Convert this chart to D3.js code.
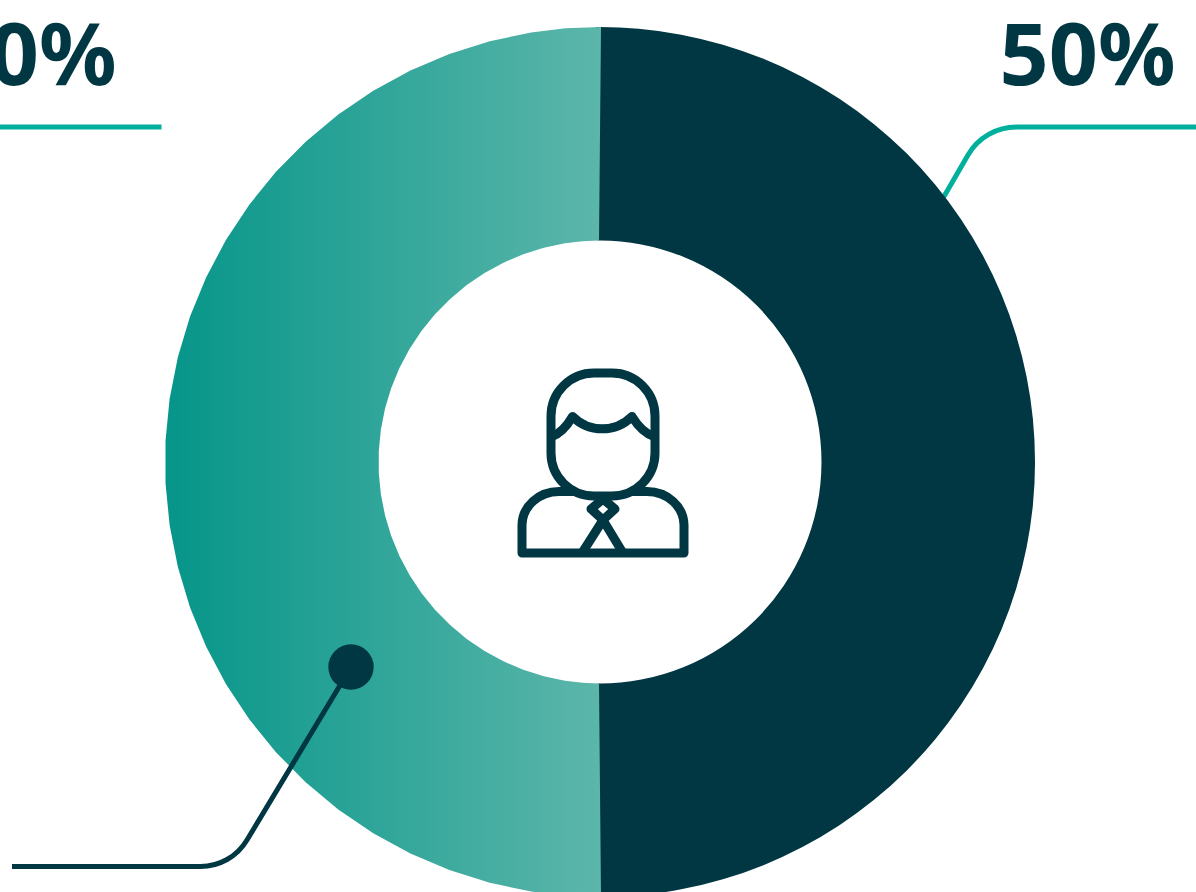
<!DOCTYPE html>
<html><head><meta charset="utf-8">
<script src="https://cdn.jsdelivr.net/npm/d3@7"></script>
<style>html,body{margin:0;padding:0;background:#fff;overflow:hidden}svg{display:block}</style>
</head><body><svg id="c" width="1196" height="892"></svg>
<script>
const shares = [50, 50];
const shareLabels = ["50%", "50%"];
const dark = "#013743", teal = "#00b09d";

const svg = d3.select("#c");
const cx = 600, cy = 462, R = 435, r = 221.5;
const defs = svg.append("defs");
const grad = defs.append("linearGradient").attr("id","g").attr("gradientUnits","userSpaceOnUse")
  .attr("x1",-R).attr("x2",0).attr("y1",0).attr("y2",0);
grad.append("stop").attr("offset",0).attr("stop-color","#069589");
grad.append("stop").attr("offset",1).attr("stop-color","#5cb6aa");

// right leader sits behind the donut
svg.append("path").attr("d","M935,212 L968,155 A56,56 0 0 1 1017,127 L1196,127")
  .attr("fill","none").attr("stroke",teal).attr("stroke-width",5);
svg.append("path").attr("d","M0,127 L161.5,127")
  .attr("fill","none").attr("stroke",teal).attr("stroke-width",5);

const pie = d3.pie().sort(null)(shares);
const g = svg.append("g").attr("transform",`translate(${cx},${cy})`);
const arc = d3.arc().innerRadius(r).outerRadius(R);

// dark half: slightly oversized, the faceted half is laid on top of its edges
g.append("path").attr("d",arc({startAngle:pie[0].startAngle-0.01,endAngle:pie[0].endAngle+0.01})).attr("fill",dark);

// gradient half: polygonal arc, straight segments as in the source artwork
const s = pie[1], nSeg = 29, firstStep = 9.1*Math.PI/180;
const step = (s.endAngle - s.startAngle - 2*firstStep)/nSeg;
const corners = d3.range(nSeg+1).map(i => s.startAngle + firstStep + i*step);
const ends = [firstStep/2, firstStep/2];
const outerA = [s.startAngle - 1/R, s.startAngle + ends[0], ...corners, s.endAngle - ends[1], s.endAngle + 1/R];
const innerA = [s.endAngle - 1/r, s.endAngle - ends[1], ...corners.slice().reverse(), s.startAngle + ends[0], s.startAngle + 1/r];
const radial = d3.lineRadial().angle(d=>d[0]).radius(d=>d[1]);
g.append("path").attr("d", radial(outerA.map(a=>[a,R]).concat(innerA.map(a=>[a,r]))) + "Z").attr("fill","url(#g)");

// left leader & dot in front
svg.append("path").attr("d","M12,866.5 L200,866.5 A54,54 0 0 0 247,840 L345,677")
  .attr("fill","none").attr("stroke",dark).attr("stroke-width",5);
svg.append("circle").attr("cx",351).attr("cy",667).attr("r",22.7).attr("fill",dark);

// labels
svg.selectAll("text.v").data(shareLabels).join("text").attr("class","v")
  .attr("x",(d,i)=> i===0 ? 1175.5 : 116.5).attr("y",85)
  .attr("text-anchor","end")
  .attr("font-family","'Noto Sans'").attr("font-weight",700).attr("font-size",86)
  .attr("fill",dark).text(d=>d);

// person icon
const ic = svg.append("g").attr("fill","none").attr("stroke",dark).attr("stroke-width",9)
  .attr("stroke-linejoin","round").attr("stroke-linecap","round");
ic.append("rect").attr("x",551).attr("y",373).attr("width",104).attr("height",123).attr("rx",43).attr("ry",43);
ic.append("path").attr("stroke-linecap","butt")
  .attr("d","M551,437 Q563,433 572.5,416.5 A42,42 0 0 0 632,416.5 Q642,433 655,437");
ic.append("path").attr("d","M572,491.5 L559,491.5 A37,34 0 0 0 522,525 L522,553 L684,553 L684,525 A37,34 0 0 0 647,491.5 L634,491.5");
ic.append("path").attr("d","M603,499 L591,509 L603,520 L615,509 Z");
ic.append("path").attr("d","M582,553 L603,520 L623,553").attr("stroke-linecap","butt");
</script></body></html>
